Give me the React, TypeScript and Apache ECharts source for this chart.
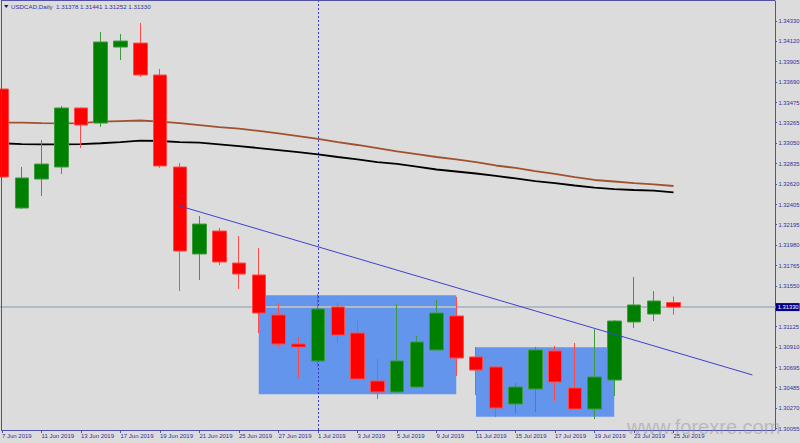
import React, { useEffect, useRef } from "react";
import * as echarts from "echarts";

const dates = [
  "7 Jun 2019", "10 Jun 2019", "11 Jun 2019", "12 Jun 2019", "13 Jun 2019", "14 Jun 2019",
  "17 Jun 2019", "18 Jun 2019", "19 Jun 2019", "20 Jun 2019", "21 Jun 2019",
  "24 Jun 2019", "25 Jun 2019", "26 Jun 2019", "27 Jun 2019", "28 Jun 2019",
  "1 Jul 2019", "2 Jul 2019", "3 Jul 2019", "4 Jul 2019", "5 Jul 2019",
  "8 Jul 2019", "9 Jul 2019", "10 Jul 2019", "11 Jul 2019", "12 Jul 2019",
  "15 Jul 2019", "16 Jul 2019", "17 Jul 2019", "18 Jul 2019", "19 Jul 2019",
  "22 Jul 2019", "23 Jul 2019", "24 Jul 2019", "25 Jul 2019",
];
const futureDates = ["26 Jul 2019", "29 Jul 2019", "30 Jul 2019", "31 Jul 2019", "1 Aug 2019"];

const opens = [
  1.33617, 1.32369, 1.32673, 1.32799, 1.33418, 1.3326, 1.34057, 1.34099, 1.33764, 1.32799,
  1.31887, 1.32128, 1.31792, 1.31667, 1.31247, 1.30943, 1.30765, 1.31331, 1.31058, 1.30555,
  1.3044, 1.30492, 1.3088, 1.31237, 1.30807, 1.30702, 1.30314, 1.30471, 1.3087, 1.30482,
  1.30261, 1.30565, 1.31174, 1.31257, 1.31378,
];
const closes = [
  1.32694, 1.32684, 1.3283, 1.33418, 1.33239, 1.3411, 1.3412, 1.33764, 1.3281, 1.31918,
  1.32201, 1.31803, 1.31677, 1.31268, 1.30943, 1.30912, 1.3131, 1.31037, 1.30576, 1.3044,
  1.30765, 1.30964, 1.31268, 1.30796, 1.3067, 1.30272, 1.30492, 1.3088, 1.30545, 1.30261,
  1.30597, 1.31184, 1.31352, 1.31394, 1.3133,
];
const lows = [
  1.32621, 1.3236, 1.32495, 1.32726, 1.32998, 1.33218, 1.33921, 1.33743, 1.32789, 1.31499,
  1.31614, 1.31771, 1.3152, 1.31058, 1.30912, 1.30586, 1.30702, 1.30954, 1.30565, 1.30366,
  1.30429, 1.30482, 1.30875, 1.30607, 1.30408, 1.30177, 1.30209, 1.3023, 1.30345, 1.30251,
  1.30156, 1.30398, 1.31111, 1.31184, 1.31252,
];
const highs = [
  1.33669, 1.32799, 1.33082, 1.33439, 1.33425, 1.34215, 1.34194, 1.34309, 1.33827, 1.32841,
  1.32285, 1.32159, 1.32075, 1.3195, 1.31373, 1.31016, 1.31467, 1.31383, 1.31184, 1.30796,
  1.31362, 1.31027, 1.31404, 1.31436, 1.30912, 1.3071, 1.30534, 1.30912, 1.30922, 1.30954,
  1.311, 1.31195, 1.31646, 1.31499, 1.31441,
];

const maBrown = [
  1.33264, 1.33264, 1.3326, 1.33257, 1.3326, 1.33274, 1.33281, 1.33287, 1.33276, 1.3326,
  1.33239, 1.33218, 1.33201, 1.33177, 1.33152, 1.33124, 1.33093, 1.33061, 1.3303, 1.32998,
  1.32962, 1.32935, 1.32904, 1.32878, 1.32851, 1.32815, 1.32789, 1.32757, 1.32726, 1.32694,
  1.32663, 1.32647, 1.32631, 1.32616, 1.326,
];
const maBlack = [
  1.33048, 1.3304, 1.33037, 1.33037, 1.3304, 1.33048, 1.33061, 1.33075, 1.33072, 1.33061,
  1.33054, 1.33037, 1.33019, 1.32998, 1.32977, 1.32956, 1.32932, 1.32904, 1.3288, 1.32851,
  1.32831, 1.32804, 1.32773, 1.32752, 1.32731, 1.32705, 1.32679, 1.32652, 1.32631, 1.32605,
  1.32582, 1.32568, 1.32558, 1.32551, 1.32534,
];

const yTickValues = [
  1.30055, 1.3027, 1.30485, 1.30695, 1.3091, 1.31125, 1.3155, 1.31765, 1.3198, 1.32195,
  1.32405, 1.3262, 1.32835, 1.3305, 1.33265, 1.33475, 1.3369, 1.33905, 1.3412, 1.3433,
];
const yMin = 1.30041;
const yMax = 1.3454;

const currentPrice = 1.3133;
const headerSymbol = "USDCAD,Daily";
const headerValues = [1.31378, 1.31441, 1.31252, 1.3133];
const verticalMarkerDate = "1 Jul 2019";
const trendStart = { date: "20 Jun 2019", price: 1.3239 };
const trendEnd = { date: "31 Jul 2019", price: 1.30618 };
const boxes = [
  { from: "26 Jun 2019", to: "10 Jul 2019", top: 1.31454, bottom: 1.30416 },
  { from: "11 Jul 2019", to: "22 Jul 2019", top: 1.30908, bottom: 1.30181 },
];
const watermark = "www.forexre.com";

const FONT = "'Liberation Sans', Arial, sans-serif";
const AXIS = "#5050A8";
const TEXT = "#30309A";

export default function App() {
  const ref = useRef<HTMLDivElement>(null);
  useEffect(() => {
    if (!ref.current) return;
    const chart = echarts.init(ref.current, undefined, { renderer: "svg" });
    const allDates = [...dates, ...futureDates];
    const lastIdx = dates.length - 1;
    const labelInterval = (i: number) => i % 2 === 0 && i <= lastIdx;
    const candles = dates.map((_, i) => [opens[i], closes[i], lows[i], highs[i]]);

    chart.setOption({
      animation: false,
      backgroundColor: "#DCDCDC",
      grid: {
        left: -7.875,
        right: 17.875,
        top: 1,
        bottom: 13,
        show: false,
        containLabel: false,
        outerBoundsMode: "none",
      },
      xAxis: {
        type: "category",
        data: allDates,
        boundaryGap: true,
        axisLine: { show: false },
        axisTick: {
          show: true,
          alignWithLabel: true,
          interval: labelInterval,
          length: 3,
          lineStyle: { color: AXIS },
        },
        axisLabel: {
          interval: labelInterval,
          align: "left",
          margin: 2.5,
          fontSize: 6,
          color: TEXT,
          fontFamily: FONT,
        },
        splitLine: { show: false },
      },
      yAxis: {
        type: "value",
        position: "right",
        offset: -7.125,
        min: yMin,
        max: yMax,
        scale: true,
        axisLine: { show: true, lineStyle: { color: AXIS, width: 1 } },
        axisTick: { show: true, length: 2, customValues: yTickValues, lineStyle: { color: AXIS } },
        axisLabel: {
          customValues: yTickValues,
          formatter: (v: number) => v.toFixed(5),
          margin: 3.5,
          fontSize: 5.8,
          color: TEXT,
          fontFamily: FONT,
        },
        splitLine: { show: false },
      },
      series: [
        {
          type: "line",
          data: maBrown,
          showSymbol: false,
          symbol: "none",
          z: 1.8,
          lineStyle: { color: "#A0522D", width: 1.8 },
        },
        {
          type: "line",
          data: maBlack,
          showSymbol: false,
          symbol: "none",
          z: 1.8,
          lineStyle: { color: "#000000", width: 1.8 },
        },
        {
          type: "line",
          data: [],
          z: 1.5,
          markLine: {
            z: 1.5,
            precision: 5,
            symbol: ["none", "none"],
            silent: true,
            data: [
              {
                xAxis: verticalMarkerDate,
                lineStyle: { color: "#3A3AC8", width: 1, type: [2, 2] },
                label: { show: false },
              },
              {
                yAxis: currentPrice,
                lineStyle: { color: "#B2BAC2", width: 2, type: "solid" },
                label: {
                  show: true,
                  position: "end",
                  distance: -6.5,
                  formatter: (p: any) => Number(p.value).toFixed(5),
                  backgroundColor: "#000080",
                  color: "#FFFFFF",
                  padding: [1, 1, 1, 2],
                  fontSize: 5.8,
                  fontFamily: FONT,
                },
              },
            ],
          },
        },
        {
          type: "candlestick",
          data: candles,
          barWidth: 14,
          z: 2,
          itemStyle: {
            color: "#008000",
            color0: "#FF0000",
            borderColor: "#3E9A3E",
            borderColor0: "#FF4A4A",
            borderWidth: 1,
          },
          markArea: {
            z: 1,
            silent: true,
            itemStyle: { color: "#6495ED", opacity: 1 },
            data: boxes.map((b) => [
              { coord: [b.from, b.top] },
              { coord: [b.to, b.bottom] },
            ]),
          },
          markLine: {
            z: 5,
            precision: 5,
            silent: true,
            symbol: ["none", "none"],
            label: { show: false },
            lineStyle: { color: "#4040D0", width: 1, type: "solid" },
            data: [
              [
                { coord: [trendStart.date, trendStart.price] },
                { coord: [trendEnd.date, trendEnd.price] },
              ],
            ],
          },
        },
      ],
      graphic: [
        { type: "line", z: 10, shape: { x1: 1.5, y1: 0.5, x2: 1.5, y2: 430.5 }, style: { stroke: AXIS, lineWidth: 1 } },
        { type: "line", z: 10, shape: { x1: 1, y1: 0.5, x2: 775, y2: 0.5 }, style: { stroke: AXIS, lineWidth: 1 } },
        { type: "line", z: 10, shape: { x1: 1, y1: 430.5, x2: 775, y2: 430.5 }, style: { stroke: AXIS, lineWidth: 1 } },
        {
          type: "polygon",
          z: 10,
          shape: { points: [[4, 5], [8.5, 5], [6.25, 8]] },
          style: { fill: "#1A1A80" },
        },
        {
          type: "text",
          z: 10,
          left: 11,
          top: 3,
          style: {
            text: headerSymbol + "  " + headerValues.map((v) => v.toFixed(5)).join(" "),
            fontSize: 6.2,
            fontFamily: FONT,
            fill: TEXT,
          },
        },
        {
          type: "text",
          z: 100,
          x: 627,
          y: 437,
          style: {
            text: watermark,
            fontSize: 20,
            fontFamily: "'Liberation Sans', sans-serif",
            fill: "rgba(150,150,150,0.5)",
            textVerticalAlign: "bottom",
          },
        },
      ],
    });
    return () => chart.dispose();
  }, []);
  return (
    <div
      ref={ref}
      style={{ position: "fixed", left: 0, top: 0, width: 800, height: 443 }}
    />
  );
}
